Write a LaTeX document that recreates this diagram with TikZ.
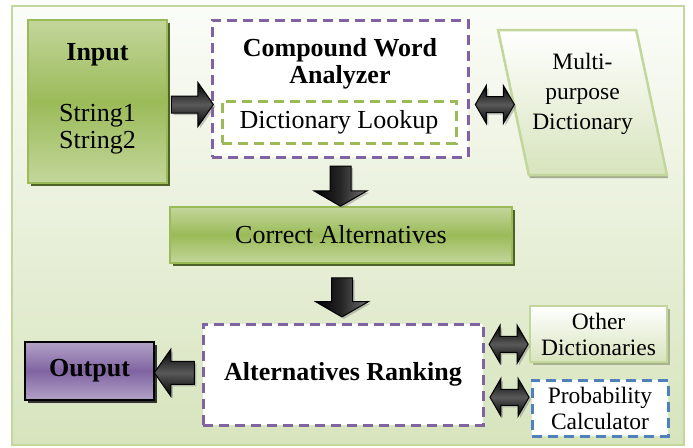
\documentclass[tikz,border=0pt]{standalone}
\usepackage{fontspec}
\setmainfont{Liberation Serif}
\usepackage{tikz}
\usetikzlibrary{shapes}
\usetikzlibrary{shapes.arrows}
\usetikzlibrary{shapes.geometric}
\usetikzlibrary{shadows}
\usetikzlibrary{calc}
\usetikzlibrary{positioning}
\definecolor{grnmid}{HTML}{9BBB59}
\definecolor{grnlight}{HTML}{C3D69B}
\definecolor{grnpale}{HTML}{D7E4BD}
\definecolor{grndark}{HTML}{4F6228}
\definecolor{purmid}{HTML}{8064A2}
\definecolor{purlight}{HTML}{B3A2C7}
\definecolor{bluemid}{HTML}{4F81BD}
\newcommand\bigtxt{\fontsize{26}{27}\selectfont}
\newcommand\smltxt{\fontsize{23.5}{26}\selectfont}
\tikzstyle{frame}=[draw=grnlight,line width=2.5pt,top color=white!90!grnpale,bottom color=grnpale]
\tikzstyle{greenbox}=[rectangle,draw=grnmid,line width=2.5pt,inner sep=2pt,top color=grnlight,bottom color=grnlight,middle color=grnmid,drop shadow={shadow xshift=3pt,shadow yshift=-3pt,fill=grndark,opacity=1},align=center,font=\bigtxt]
\tikzstyle{palebox}=[rectangle,draw=grnlight,line width=2.5pt,inner sep=2pt,top color=white,bottom color=grnpale,drop shadow={shadow xshift=3pt,shadow yshift=-3pt,fill=grnlight!60!gray,opacity=1},align=center,font=\smltxt]
\tikzstyle{purplebox}=[rectangle,draw=black,line width=2.5pt,inner sep=2pt,top color=purlight,bottom color=purlight,middle color=purmid,drop shadow={shadow xshift=3pt,shadow yshift=-3pt,fill=black!80,opacity=1},font=\bfseries\bigtxt]
\tikzstyle{dashbox}=[rectangle,draw=purmid,line width=3pt,dash pattern=on 10pt off 6pt,fill=white,inner sep=2pt,align=center,font=\bigtxt]
\tikzstyle{fatarrow}=[single arrow,draw=black,line width=1pt,single arrow tip angle=110,inner xsep=0pt,inner ysep=8pt,top color=black,bottom color=black,middle color=black!65,drop shadow={shadow xshift=2pt,shadow yshift=-2pt,opacity=.45}]
\tikzstyle{downarrow}=[single arrow,shape border rotate=270,draw=black,line width=1pt,single arrow tip angle=120,inner xsep=10pt,inner ysep=0pt,single arrow head extend=16pt,left color=black,right color=black!55,middle color=black!85,drop shadow={shadow xshift=2pt,shadow yshift=-2pt,opacity=.45}]
\tikzstyle{duoarrow}=[double arrow,draw=black,line width=1pt,double arrow tip angle=120,inner xsep=0pt,inner ysep=7.5pt,minimum height=39pt,double arrow head extend=11pt,top color=black,bottom color=black,middle color=black!65,drop shadow={shadow xshift=2pt,shadow yshift=-2pt,opacity=.45}]
\begin{document}
\begin{tikzpicture}[x=1pt,y=-1pt]
\useasboundingbox (0,0) rectangle (693,447);
\draw[frame] (12,6) rectangle (684,445);
\node[greenbox,minimum width=139pt,minimum height=163pt] (in) at (97.5,101.5) {\textbf{Input}\\[34pt]String1\\String2\\[-15pt]\mbox{}};
\node[dashbox,minimum width=256pt,minimum height=137pt] (cwa) at (340,88.5) {};
\node[font=\bfseries\bigtxt,align=center] (cwatitle) at ($(cwa.north)+(0,45)$) {Compound Word\\Analyzer};
\node[dashbox,draw=grnmid,minimum width=234pt,minimum height=42pt] (look) at (339,122) {Dictionary Lookup};
\node[trapezium,trapezium left angle=106,trapezium right angle=74,trapezium stretches=true,draw=grnlight,line width=2.5pt,top color=white,bottom color=grnpale,minimum width=169pt,minimum height=145pt,drop shadow={shadow xshift=1pt,shadow yshift=-3pt,fill=grnlight!50!gray,opacity=1}] (mpd) at (582.5,102.5) {};
\node[font=\fontsize{23.5}{30}\selectfont,align=center] (mpdtext) at ($(mpd.center)+(0,-9)$) {Multi-\\purpose\\Dictionary};
\node[greenbox,minimum width=342pt,minimum height=56pt] (ca) at (341,235) {Correct Alternatives};
\node[dashbox,minimum width=280pt,minimum height=101pt,font=\bfseries\bigtxt] (ar) at (343,374.5) {Alternatives Ranking};
\node[purplebox,minimum width=129pt,minimum height=58pt] (out) at (89.5,371) {Output};
\node[palebox,minimum width=137pt,minimum height=56pt] (od) at (598.5,334) {Other\\Dictionaries};
\node[dashbox,draw=bluemid,minimum width=136pt,minimum height=56pt,font=\smltxt] (pc) at (600,408) {Probability\\Calculator};
\node[fatarrow,minimum height=42pt,single arrow head extend=13.5pt,yshift=-9.5pt] (a1) at ($(in.east)!.5!(cwa.west)$) {};
\node[duoarrow,xshift=4pt,yshift=-9pt] (a2) at ($(cwa.east)!.5!(mpd.west)$) {};
\node[downarrow,minimum height=40pt,yshift=-1pt] (a3) at ($(cwa.south)!.5!(ca.north)$) {};
\node[downarrow,minimum height=39pt,yshift=-1pt] (a4) at ($(ca.south)!.5!(ar.north)$) {};
\node[fatarrow,shape border rotate=180,minimum height=40pt,inner ysep=11pt,single arrow head extend=12pt] (a5) at ($(out.east)!.5!(ar.west)$) {};
\node[duoarrow,xshift=2pt,yshift=10pt] (a6) at ($(ar.east)!.5!(od.west)$) {};
\node[duoarrow,xshift=2pt,yshift=-6pt] (a7) at ($(ar.east)!.5!(pc.west)$) {};
\end{tikzpicture}
\end{document}
